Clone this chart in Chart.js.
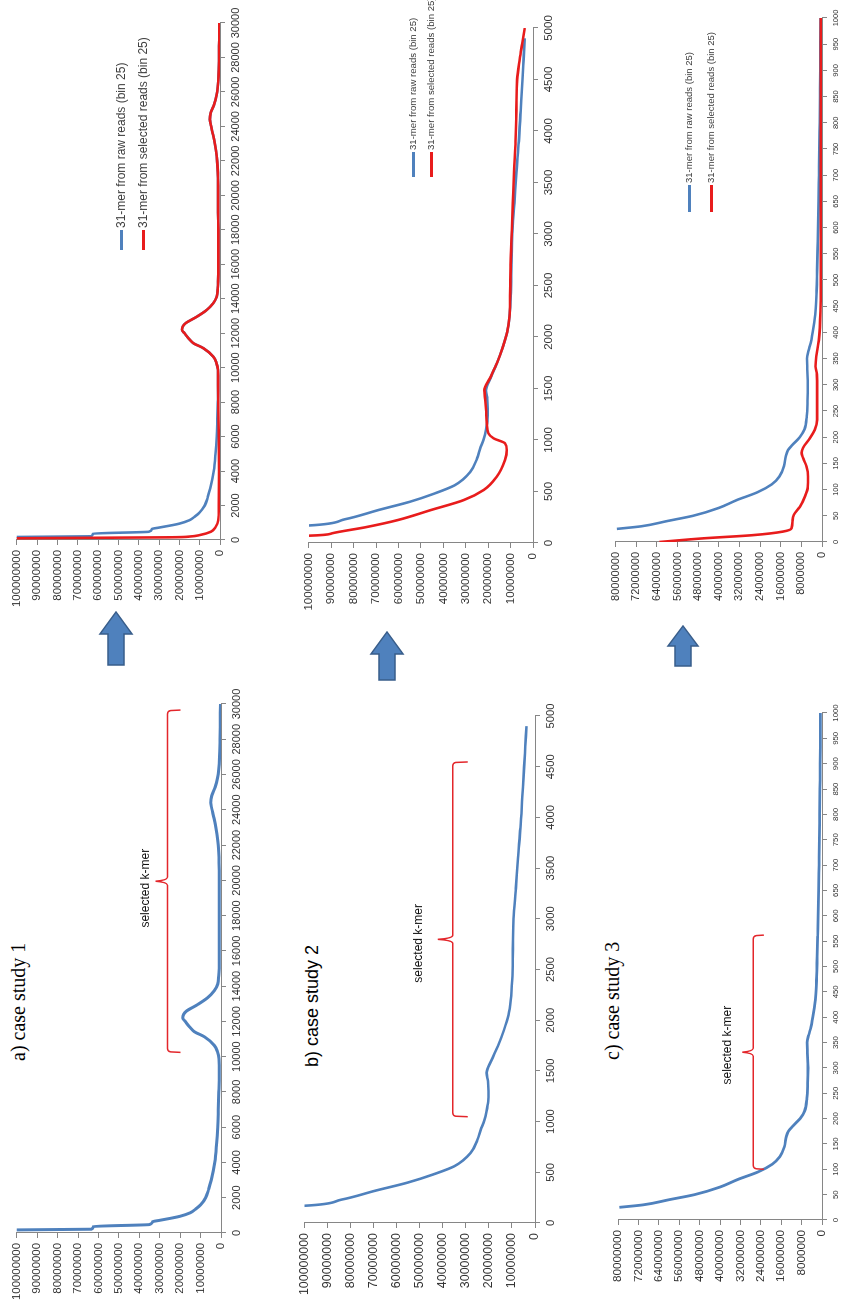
<!DOCTYPE html>
<html>
<head>
<meta charset="utf-8">
<title>31-mer frequency, case studies 1-3</title>
<script src="https://cdn.jsdelivr.net/npm/chart.js@4.4.1/dist/chart.umd.min.js"></script>
<style>
  html, body { margin: 0; padding: 0; background: #fff; }
  body { width: 844px; height: 1310px; overflow: hidden; position: relative; }
  /* the figure is built in landscape, then turned a quarter turn */
  #sheet { position: absolute; left: 0; top: 1310px; width: 1310px; height: 844px;
           transform-origin: 0 0; transform: rotate(-90deg); overflow: hidden; background: #fff; }
  .box { position: absolute; }
  .title { position: absolute; white-space: nowrap; line-height: 1; color: #000; }
  .serif { font-family: "Liberation Serif", "Times New Roman", serif; font-size: 20px; }
  .lg { position: absolute; white-space: nowrap; line-height: 1; color: #404040;
        font-family: "Liberation Sans", Arial, sans-serif; }
  .lg i { display: inline-block; height: 3px; vertical-align: middle; margin-right: 2px; }
  #arrows { position: absolute; left: 0; top: 0; }
</style>
</head>
<body>
<div id="sheet">
  <div class="title serif" style="left:249px;top:8px">a) case study 1</div>
  <div class="title" style="left:243px;top:303px;font-family:'Liberation Sans',Arial,sans-serif;font-size:18px">b) case study 2</div>
  <div class="title serif" style="left:250px;top:602px">c) case study 3</div>

  <div class="box" style="left:5px;top:5px;width:627px;height:246px"><canvas id="rawA"></canvas></div>
  <div class="box" style="left:698px;top:5px;width:615px;height:245px"><canvas id="cmpA"></canvas></div>
  <div class="box" style="left:15px;top:292px;width:605px;height:273px"><canvas id="rawB"></canvas></div>
  <div class="box" style="left:695px;top:297px;width:613px;height:266px"><canvas id="cmpB"></canvas></div>
  <div class="box" style="left:18px;top:606px;width:605px;height:246px"><canvas id="rawC"></canvas></div>
  <div class="box" style="left:696px;top:604px;width:622px;height:248px"><canvas id="cmpC"></canvas></div>

  <div class="lg" style="left:1060px;top:115px;font-size:12px"><i style="width:20px;background:#4f81bd"></i>31-mer from raw reads (bin 25)</div>
  <div class="lg" style="left:1060px;top:137px;font-size:12px"><i style="width:20px;background:#e81c1c"></i>31-mer from selected reads (bin 25)</div>
  <div class="lg" style="left:1133px;top:408px;font-size:9.6px"><i style="width:25px;background:#4f81bd"></i>31-mer from raw reads (bin 25)</div>
  <div class="lg" style="left:1133px;top:426px;font-size:9.6px"><i style="width:25px;background:#e81c1c"></i>31-mer from selected reads (bin 25)</div>
  <div class="lg" style="left:1098px;top:684px;font-size:9.5px"><i style="width:27px;background:#4f81bd"></i>31-mer from raw reads (bin 25)</div>
  <div class="lg" style="left:1098px;top:706px;font-size:9.5px"><i style="width:27px;background:#e81c1c"></i>31-mer from selected reads (bin 25)</div>

  <svg id="arrows" width="1310" height="844">
    <g fill="#4f81bd" stroke="#385d8a" stroke-width="1.5">
      <polygon points="645,108 676,108 676,100 698,116 676,132 676,124 645,124"/>
      <polygon points="630,379 656,379 656,371 678,387 656,403 656,395 630,395"/>
      <polygon points="644,675 664,675 664,668 684,683 664,698 664,691 644,691"/>
    </g>
  </svg>
</div>

<script>
// k-mer frequency curves, counts in millions, x = k-mer count (bin 25)

// case study 1
const case1X = [25, 100, 175, 215, 370, 480, 640, 720, 850, 950,
  1150, 1350, 1600, 2000, 2500, 3000, 4000, 5000, 6000, 7000,
  8000, 9000, 9870, 10300, 10640, 11125, 11415, 11700, 12000, 12190,
  12400, 12575, 12960, 13350, 13740, 14120, 14600, 15000, 16000, 17000,
  18000, 19000, 20000, 21000, 22000, 22600, 23200, 23700, 24100, 24400,
  24800, 25300, 25800, 26300, 27000, 28000, 29000, 30000];
const case1Raw = [900, 300, 100, 63.5, 62.5, 35, 33.5, 30, 24, 20,
  15, 12.5, 10, 7.5, 6, 4.8, 3.1, 2.2, 1.6, 1.3,
  1.05, 0.9, 1.0, 1.8, 3.3, 8.1, 13, 15.5, 17.5, 18.7,
  18.3, 17, 11.4, 6.5, 3.3, 1.6, 1.1, 0.9, 0.8, 0.8,
  0.8, 0.9, 0.9, 1.0, 1.4, 2.0, 2.8, 3.8, 4.6, 5.0,
  4.5, 2.8, 1.7, 1.1, 0.7, 0.5, 0.4, 0.3];
const case1SelX = [25, 60, 100, 156, 200, 290, 480, 770, 1150, 2000,
  4000, 6000, 8000, 9000, 9870, 10300, 10640, 11125, 11415, 11700,
  12000, 12190, 12400, 12575, 12960, 13350, 13740, 14120, 14600, 15000,
  16000, 17000, 18000, 19000, 20000, 21000, 22000, 22600, 23200, 23700,
  24100, 24400, 24800, 25300, 25800, 26300, 27000, 28000, 29000, 30000];
const case1Sel = [400, 220, 100, 25, 15, 9.8, 4.5, 2.1, 0.9, 0.6,
  0.5, 0.6, 0.85, 0.9, 1.0, 1.8, 3.3, 8.1, 13, 15.5,
  17.5, 18.7, 18.3, 17, 11.4, 6.5, 3.3, 1.6, 1.1, 0.9,
  0.8, 0.8, 0.8, 0.9, 0.9, 1.0, 1.4, 2.0, 2.8, 3.8,
  4.6, 5.0, 4.5, 2.8, 1.7, 1.1, 0.7, 0.5, 0.4, 0.3];

// case study 2
const case2X = [25, 100, 170, 230, 320, 400, 480, 560, 690, 820,
  920, 1010, 1100, 1200, 1300, 1400, 1480, 1600, 1750, 1900,
  2050, 2200, 2400, 2700, 3000, 3300, 3600, 3900, 4200, 4500,
  4700, 4900];
const case2Raw = [800, 200, 100, 84, 69, 55, 44, 35, 28, 25,
  23.5, 22, 21, 20.3, 20.2, 20.4, 21, 19, 16, 13.5,
  11.5, 10.5, 9.9, 9.6, 9.3, 8.3, 7.4, 6.3, 5.5, 4.7,
  4.2, 3.7];
const case2SelX = [25, 50, 71, 94, 152, 223, 320, 417, 515, 644,
  806, 903, 968, 1016, 1065, 1162, 1300, 1388, 1485, 1600,
  1750, 1900, 2050, 2200, 2400, 2700, 3000, 3300, 3600, 3900,
  4200, 4500, 4700, 4850, 5000];
const case2Sel = [400, 200, 100, 89.7, 75, 60.3, 45.6, 30.9, 22, 16.2,
  12.5, 11.7, 12.5, 17.6, 19.9, 20.6, 21, 21.3, 21.7, 19.2,
  16, 13.5, 11.5, 10.5, 10.2, 10, 9.5, 9.0, 8.5, 7.8,
  7.4, 7.1, 5.9, 4.8, 3.7];

// case study 3
const case3X = [25, 30, 40, 50, 65, 80, 95, 110, 125, 145,
  165, 175, 185, 200, 215, 240, 270, 300, 330, 350,
  365, 380, 410, 440, 480, 520, 560, 600, 650, 700,
  750, 800, 850, 900, 950, 1000];
const case3Raw = [79.5, 70, 60, 50, 40, 33, 25, 19.5, 16.5, 14.7,
  14.0, 13.2, 11.5, 8.6, 6.8, 5.9, 5.6, 5.5, 5.7, 5.8,
  5.2, 4.4, 3.3, 2.5, 2.1, 1.9, 1.7, 1.5, 1.3, 1.15,
  1.0, 0.9, 0.8, 0.7, 0.65, 0.6];
const case3SelX = [0, 7, 13, 20, 26, 42, 52, 67, 86, 105,
  125, 144, 160, 170, 180, 198, 214, 233, 260, 290,
  320, 335, 354, 385, 443, 500, 600, 700, 800, 900, 1000];
const case3Sel = [63, 46, 27, 15, 11.8, 11.4, 10.9, 8.6, 6.7, 5.5,
  5.4, 6.0, 7.3, 7.9, 7.3, 4.7, 2.8, 1.9, 1.9, 1.9,
  2.0, 2.5, 2.2, 1.2, 0.6, 0.5, 0.45, 0.45, 0.45, 0.45, 0.45];

// ranges marked "selected k-mer" on the raw plots
const selectedA = [10300, 29600];
const selectedB = [1058, 4537];
const selectedC = [102, 560];

const BLUE = '#4f81bd';
const RED = '#e81c1c';
const AXIS = '#868686';
const FONT = '"Liberation Sans", Arial, sans-serif';

// curly brace over the selected range, drawn on the raw plots
const bracePlugin = {
  id: 'brace',
  afterDatasetsDraw(chart, args, o) {
    const { ctx } = chart;
    const xs = chart.scales.x, ys = chart.scales.y;
    const x1 = xs.getPixelForValue(o.range[0]);
    const x2 = xs.getPixelForValue(o.range[1]);
    const xm = (x1 + x2) / 2;
    const yl = ys.getPixelForValue(o.level);
    ctx.save();
    ctx.strokeStyle = '#e3262b';
    ctx.lineWidth = 1.5;
    ctx.beginPath();
    ctx.moveTo(x1 - 1, yl + o.hook);
    ctx.lineTo(x1 - 0.5, yl + 3);
    ctx.quadraticCurveTo(x1, yl, x1 + 3, yl);
    ctx.lineTo(xm - 4, yl);
    ctx.quadraticCurveTo(xm - 1, yl, xm, yl - o.spike);
    ctx.quadraticCurveTo(xm + 1, yl, xm + 4, yl);
    ctx.lineTo(x2 - 3, yl);
    ctx.quadraticCurveTo(x2, yl, x2 + 0.5, yl + 3);
    ctx.lineTo(x2 + 1, yl + o.hook);
    ctx.stroke();
    ctx.fillStyle = '#111';
    ctx.font = '12px ' + FONT;
    ctx.textAlign = 'center';
    ctx.textBaseline = 'alphabetic';
    ctx.fillText('selected k-mer', xm + o.shift, yl - o.textUp);
    ctx.restore();
  }
};

function panel(id, p) {
  const datasets = p.series.map(s => ({
    data: s.x.map((x, i) => ({ x: x, y: s.y[i] })),
    borderColor: s.color,
    borderWidth: p.lineWidth,
    pointRadius: 0,
    fill: false,
    cubicInterpolationMode: 'monotone',
    order: s.order
  }));
  return new Chart(document.getElementById(id), {
    type: 'line',
    data: { datasets: datasets },
    options: {
      responsive: true,
      maintainAspectRatio: false,
      animation: false,
      events: [],
      layout: { padding: { top: 10, right: 26, left: 0, bottom: 0 } },
      plugins: {
        legend: { display: false },
        tooltip: { enabled: false },
        brace: p.brace
      },
      scales: {
        x: {
          type: 'linear', min: 0, max: p.xMax,
          ticks: {
            stepSize: p.xStep, autoSkip: false, maxRotation: 0, minRotation: 0,
            padding: 4, color: '#333', font: { family: FONT, size: p.xFont },
            callback: v => String(v)
          },
          grid: { drawOnChartArea: false, tickLength: 5, color: AXIS },
          border: { color: AXIS },
          afterFit: s => { s.height = 30; }
        },
        y: {
          min: 0, max: p.yMax,
          ticks: {
            stepSize: p.yStep, padding: 5, color: '#333',
            font: { family: FONT, size: p.yFont },
            callback: v => String(Math.round(v * 1000000))
          },
          grid: { drawOnChartArea: false, tickLength: 5, color: AXIS },
          border: { color: AXIS },
          afterFit: s => { s.width = 72; }
        }
      }
    },
    plugins: p.brace ? [bracePlugin] : []
  });
}

panel('rawA', {
  xMax: 30000, xStep: 2000, yMax: 100, yStep: 10, xFont: 11, yFont: 11.4, lineWidth: 3,
  series: [{ x: case1X, y: case1Raw, color: BLUE, order: 1 }],
  brace: { range: selectedA, level: 26.2, hook: 13, spike: 12, textUp: 18.7, shift: -7 }
});
panel('cmpA', {
  xMax: 30000, xStep: 2000, yMax: 100, yStep: 10, xFont: 11, yFont: 11.4, lineWidth: 2.6,
  series: [
    { x: case1X, y: case1Raw, color: BLUE, order: 1 },
    { x: case1SelX, y: case1Sel, color: RED, order: 0 }
  ]
});
panel('rawB', {
  xMax: 5000, xStep: 500, yMax: 100, yStep: 10, xFont: 11.2, yFont: 12.4, lineWidth: 2.6,
  series: [{ x: case2X, y: case2Raw, color: BLUE, order: 1 }],
  brace: { range: selectedB, level: 35.7, hook: 15, spike: 15, textUp: 31, shift: -4 }
});
panel('cmpB', {
  xMax: 5000, xStep: 500, yMax: 100, yStep: 10, xFont: 11.5, yFont: 11.5, lineWidth: 2.6,
  series: [
    { x: case2X, y: case2Raw, color: BLUE, order: 1 },
    { x: case2SelX, y: case2Sel, color: RED, order: 0 }
  ]
});
panel('rawC', {
  xMax: 1000, xStep: 50, yMax: 80, yStep: 8, xFont: 7.8, yFont: 11.7, lineWidth: 2.8,
  series: [{ x: case3X, y: case3Raw, color: BLUE, order: 1 }],
  brace: { range: selectedC, level: 26.95, hook: 10.6, spike: 11, textUp: 22.7, shift: 7 }
});
panel('cmpC', {
  xMax: 1000, xStep: 50, yMax: 80, yStep: 8, xFont: 7.5, yFont: 11, lineWidth: 2.6,
  series: [
    { x: case3X, y: case3Raw, color: BLUE, order: 1 },
    { x: case3SelX, y: case3Sel, color: RED, order: 0 }
  ]
});
</script>
</body>
</html>
